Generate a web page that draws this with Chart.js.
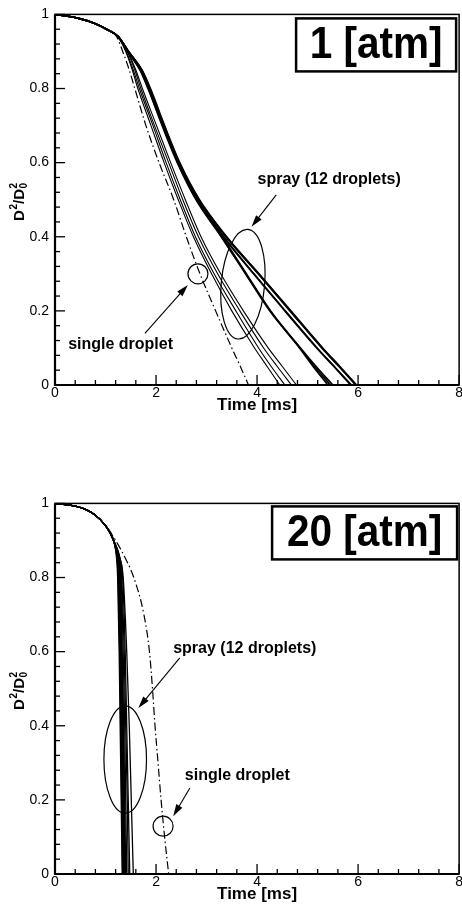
<!DOCTYPE html>
<html>
<head>
<meta charset="utf-8">
<script src="https://cdn.jsdelivr.net/npm/chart.js@4.4.0/dist/chart.umd.min.js"></script>
<style>
  html, body { margin: 0; padding: 0; background: #fff; overflow: hidden; width: 462px; height: 909px; }
  .panel { position: absolute; left: 0; width: 463px; height: 430px; }
  #topPanel { top: 0; }
  #botPanel { top: 489px; }
</style>
</head>
<body>
<div class="panel" id="topPanel"><canvas id="chartTop" width="463" height="430"></canvas></div>
<div class="panel" id="botPanel"><canvas id="chartBot" width="463" height="430"></canvas></div>
<script>
// D^2/D0^2 levels, and the time [ms] each droplet reaches that level
// 1 atm panel
const topLevels = [1, 0.99, 0.975, 0.96, 0.94, 0.9, 0.85, 0.8, 0.7, 0.6, 0.5, 0.4, 0.3, 0.2, 0.1, 0.05, 0];
const topSingle = [0, 0.45, 0.8, 1.02, 1.22, 1.34, 1.47, 1.58, 1.8, 2.06, 2.35, 2.6, 2.87, 3.18, 3.5, 3.67, 3.83];
const topA1 = [0, 0.45, 0.8, 1.02, 1.24, 1.40, 1.53, 1.64, 1.90, 2.16, 2.44, 2.74, 3.10, 3.50, 3.95, 4.20, 4.45];
const topA2 = [0, 0.45, 0.8, 1.02, 1.25, 1.41, 1.55, 1.67, 1.94, 2.20, 2.48, 2.78, 3.15, 3.58, 4.03, 4.28, 4.55];
const topA3 = [0, 0.45, 0.8, 1.02, 1.25, 1.43, 1.58, 1.70, 1.97, 2.25, 2.53, 2.84, 3.22, 3.66, 4.13, 4.40, 4.68];
const topA4 = [0, 0.45, 0.8, 1.02, 1.26, 1.44, 1.60, 1.73, 2.01, 2.29, 2.58, 2.89, 3.28, 3.73, 4.22, 4.50, 4.78];
const topB1 = [0, 0.45, 0.8, 1.02, 1.25, 1.44, 1.68, 1.84, 2.12, 2.42, 2.79, 3.29, 3.77, 4.25, 4.84, 5.11, 5.40];
const topB2 = [0, 0.45, 0.8, 1.02, 1.25, 1.45, 1.70, 1.86, 2.14, 2.44, 2.80, 3.30, 3.78, 4.26, 4.85, 5.14, 5.45];
const topB3 = [0, 0.45, 0.8, 1.02, 1.25, 1.45, 1.71, 1.87, 2.15, 2.45, 2.81, 3.31, 3.79, 4.27, 4.86, 5.17, 5.50];
const topC1 = [0, 0.45, 0.8, 1.02, 1.25, 1.44, 1.69, 1.85, 2.13, 2.43, 2.81, 3.33, 3.93, 4.55, 5.18, 5.52, 5.85];
const topC2 = [0, 0.45, 0.8, 1.02, 1.25, 1.45, 1.70, 1.86, 2.14, 2.44, 2.82, 3.34, 3.94, 4.56, 5.19, 5.53, 5.87];
const topC3 = [0, 0.45, 0.8, 1.02, 1.25, 1.45, 1.71, 1.87, 2.15, 2.45, 2.84, 3.38, 4.02, 4.65, 5.28, 5.62, 5.95];
const topC4 = [0, 0.45, 0.8, 1.02, 1.25, 1.45, 1.72, 1.88, 2.16, 2.46, 2.85, 3.39, 4.03, 4.66, 5.29, 5.63, 5.96];
const topC5 = [0, 0.45, 0.8, 1.02, 1.25, 1.46, 1.72, 1.89, 2.17, 2.47, 2.86, 3.40, 4.04, 4.67, 5.30, 5.64, 5.97];

// 20 atm panel
const botLevels = [1, 0.99, 0.97, 0.94, 0.9, 0.85, 0.8, 0.6, 0.4, 0.2, 0];
const botS1 = [0, 0.48, 0.78, 1.0, 1.16, 1.22, 1.24, 1.27, 1.29, 1.31, 1.33];
const botS2 = [0, 0.48, 0.78, 1.0, 1.16, 1.23, 1.25, 1.28, 1.30, 1.32, 1.34];
const botS3 = [0, 0.48, 0.78, 1.0, 1.16, 1.23, 1.26, 1.29, 1.31, 1.33, 1.35];
const botS4 = [0, 0.48, 0.78, 1.0, 1.16, 1.24, 1.27, 1.30, 1.32, 1.34, 1.36];
const botS5 = [0, 0.48, 0.78, 1.0, 1.16, 1.24, 1.27, 1.30, 1.33, 1.35, 1.37];
const botS6 = [0, 0.48, 0.78, 1.0, 1.16, 1.25, 1.28, 1.31, 1.34, 1.36, 1.38];
const botS7 = [0, 0.48, 0.78, 1.0, 1.16, 1.25, 1.29, 1.32, 1.35, 1.37, 1.39];
const botS8 = [0, 0.48, 0.78, 1.0, 1.16, 1.26, 1.30, 1.33, 1.36, 1.38, 1.40];
const botS9 = [0, 0.48, 0.78, 1.0, 1.16, 1.27, 1.31, 1.35, 1.38, 1.40, 1.42];
const botS10 = [0, 0.48, 0.78, 1.0, 1.16, 1.28, 1.32, 1.37, 1.40, 1.43, 1.45];
const botS11 = [0, 0.48, 0.78, 1.0, 1.16, 1.29, 1.34, 1.39, 1.42, 1.45, 1.48];
const botS12 = [0, 0.48, 0.78, 1.0, 1.16, 1.29, 1.35, 1.42, 1.47, 1.51, 1.55];
const botSingleLevels = [1, 0.99, 0.97, 0.94, 0.9, 0.85, 0.8, 0.7, 0.6, 0.5, 0.4, 0.3, 0.2, 0.1, 0];
const botSingle = [0, 0.48, 0.78, 1.0, 1.2, 1.4, 1.56, 1.76, 1.87, 1.93, 1.98, 2.04, 2.1, 2.17, 2.25];

// axis ticks
const xMajorStep = 2, xMinorStep = 0.4;
const yMajorStep = 0.2, yMinorStep = 0.04;

const FONT = '"Liberation Sans", Arial, Helvetica, sans-serif';

// annotation placement (data coords for anchors, px for sizes)
const topNotes = {
  label: '1 [atm]', box: { right: 3, top: 4, w: 160, h: 53 },
  sprayText: [4.01, 0.553], sprayArrow: [[4.38, 0.513], [3.89, 0.427]],
  ellipse: { at: [3.72, 0.272], rx: 21.7, ry: 55, rot: 0.09 },
  singleText: [0.26, 0.11], singleArrow: [[1.78, 0.139], [2.63, 0.27]],
  circle: { at: [2.83, 0.30], r: 10 }
};
const botNotes = {
  label: '20 [atm]', box: { right: 2, top: 3, w: 185, h: 53 },
  sprayText: [2.34, 0.608], sprayArrow: [[2.47, 0.583], [1.65, 0.448]],
  ellipse: { at: [1.39, 0.309], rx: 21.3, ry: 53.7, rot: 0 },
  singleText: [2.57, 0.265], singleArrow: [[2.67, 0.232], [2.34, 0.156]],
  circle: { at: [2.14, 0.129], r: 10 }
};

function toPoints(times, levels) {
  return times.map((t, i) => ({ x: t, y: levels[i] }));
}

function isMultiple(v, step) {
  return Math.abs(v / step - Math.round(v / step)) < 1e-6;
}

function lineSet(times, levels, width) {
  return {
    data: toPoints(times, levels),
    borderColor: '#000',
    borderWidth: width,
    pointRadius: 0,
    fill: false,
    cubicInterpolationMode: 'monotone'
  };
}

function drawArrow(ctx, x0, y0, x1, y1) {
  const ang = Math.atan2(y1 - y0, x1 - x0);
  const len = 12, half = 3.5;
  ctx.beginPath();
  ctx.moveTo(x0, y0);
  ctx.lineTo(x1 - Math.cos(ang) * len * 0.8, y1 - Math.sin(ang) * len * 0.8);
  ctx.stroke();
  ctx.beginPath();
  ctx.moveTo(x1, y1);
  ctx.lineTo(x1 - Math.cos(ang) * len - Math.sin(ang) * half, y1 - Math.sin(ang) * len + Math.cos(ang) * half);
  ctx.lineTo(x1 - Math.cos(ang) * len + Math.sin(ang) * half, y1 - Math.sin(ang) * len - Math.cos(ang) * half);
  ctx.closePath();
  ctx.fill();
}

function drawYTitle(ctx, cx, cy) {
  ctx.save();
  ctx.translate(cx, cy);
  ctx.rotate(-Math.PI / 2);
  const big = 'bold 15px ' + FONT, small = 'bold 10px ' + FONT;
  ctx.font = big;
  const wD = ctx.measureText('D').width, wSl = ctx.measureText('/').width;
  ctx.font = small;
  const w2 = ctx.measureText('2').width;
  let x = -(wD * 2 + wSl + w2 * 2 + 1.5) / 2;
  const base = 5;
  ctx.fillStyle = '#000';
  ctx.textAlign = 'left';
  ctx.textBaseline = 'alphabetic';
  ctx.font = big; ctx.fillText('D', x, base); x += wD + 0.5;
  ctx.font = small; ctx.fillText('2', x, base - 6.5); x += w2;
  ctx.font = big; ctx.fillText('/', x, base); x += wSl;
  ctx.fillText('D', x, base); x += wD + 0.5;
  ctx.font = small; ctx.fillText('2', x, base - 6.5); ctx.fillText('0', x, base + 3.5);
  ctx.restore();
}

const decorPlugin = {
  id: 'decor',
  afterDatasetsDraw(chart) {
    const { ctx, chartArea: a, scales: { x, y } } = chart;
    const notes = chart.options.plugins.decor.notes;
    ctx.save();
    ctx.strokeStyle = '#000';
    ctx.fillStyle = '#000';

    // inward tick marks
    ctx.lineWidth = 1.3;
    x.ticks.forEach(t => {
      const px = x.getPixelForValue(t.value);
      const len = isMultiple(t.value, xMajorStep) ? 10 : 5;
      ctx.beginPath(); ctx.moveTo(px, a.bottom); ctx.lineTo(px, a.bottom - len); ctx.stroke();
    });
    y.ticks.forEach(t => {
      const py = y.getPixelForValue(t.value);
      const len = isMultiple(t.value, yMajorStep) ? 10 : 5;
      ctx.beginPath(); ctx.moveTo(a.left, py); ctx.lineTo(a.left + len, py); ctx.stroke();
    });

    // frame
    ctx.lineWidth = 1.5;
    ctx.strokeRect(a.left, a.top, a.right - a.left, a.bottom - a.top);
    ctx.lineWidth = 2.2;
    ctx.beginPath();
    ctx.moveTo(a.left, a.top); ctx.lineTo(a.left, a.bottom); ctx.lineTo(a.right, a.bottom);
    ctx.stroke();

    // pressure label box
    const b = notes.box;
    const bx = a.right - b.right - b.w, by = a.top + b.top;
    ctx.fillStyle = '#fff';
    ctx.fillRect(bx, by, b.w, b.h);
    ctx.fillStyle = '#000';
    ctx.lineWidth = 2.5;
    ctx.strokeRect(bx, by, b.w, b.h);
    ctx.save();
    ctx.translate(bx + b.w / 2, by + b.h / 2 + 1);
    ctx.scale(0.9, 1);
    ctx.font = 'bold 45px ' + FONT;
    ctx.textAlign = 'center';
    ctx.textBaseline = 'middle';
    ctx.fillText(notes.label, 0, 0);
    ctx.restore();

    // ellipse around spray curves
    ctx.lineWidth = 1.2;
    const e = notes.ellipse;
    ctx.beginPath();
    ctx.ellipse(x.getPixelForValue(e.at[0]), y.getPixelForValue(e.at[1]), e.rx, e.ry, e.rot, 0, Math.PI * 2);
    ctx.stroke();

    // circle on single droplet curve
    const c = notes.circle;
    ctx.beginPath();
    ctx.arc(x.getPixelForValue(c.at[0]), y.getPixelForValue(c.at[1]), c.r, 0, Math.PI * 2);
    ctx.stroke();

    // arrows
    ctx.lineWidth = 1.1;
    [notes.sprayArrow, notes.singleArrow].forEach(ar => {
      drawArrow(ctx,
        x.getPixelForValue(ar[0][0]), y.getPixelForValue(ar[0][1]),
        x.getPixelForValue(ar[1][0]), y.getPixelForValue(ar[1][1]));
    });

    // annotation text
    ctx.font = 'bold 16px ' + FONT;
    ctx.textAlign = 'left';
    ctx.textBaseline = 'middle';
    ctx.fillText('spray (12 droplets)', x.getPixelForValue(notes.sprayText[0]), y.getPixelForValue(notes.sprayText[1]));
    ctx.fillText('single droplet', x.getPixelForValue(notes.singleText[0]), y.getPixelForValue(notes.singleText[1]));

    // y axis title with stacked sub/superscript
    drawYTitle(ctx, 18.5, (a.top + a.bottom) / 2 + 2);
    ctx.restore();
  }
};

function makeChart(canvasId, datasets, notes) {
  return new Chart(document.getElementById(canvasId), {
    type: 'line',
    data: { datasets: datasets },
    options: {
      responsive: false,
      animation: false,
      layout: { padding: { top: 14, left: 0, right: 0, bottom: 0 } },
      plugins: {
        legend: { display: false },
        tooltip: { enabled: false },
        decor: { notes: notes }
      },
      scales: {
        x: {
          type: 'linear', min: 0, max: 8,
          grid: { display: false, drawTicks: false },
          border: { display: false },
          ticks: {
            stepSize: xMinorStep, autoSkip: false, maxRotation: 0, padding: 0,
            color: '#000', font: { family: FONT, size: 14 },
            callback: v => isMultiple(v, xMajorStep) ? String(Math.round(v)) : ''
          },
          title: {
            display: true, text: 'Time [ms]', color: '#000',
            font: { family: FONT, size: 17, weight: 'bold' },
            padding: { top: 0, bottom: 14 }
          },
          afterFit: s => { s.height = 45; }
        },
        y: {
          type: 'linear', min: 0, max: 1,
          grid: { display: false, drawTicks: false },
          border: { display: false },
          ticks: {
            stepSize: yMinorStep, autoSkip: false, padding: 6,
            color: '#000', font: { family: FONT, size: 14 },
            callback: v => isMultiple(v, yMajorStep) ? String(Math.round(v * 10) / 10) : ''
          },
          afterFit: s => { s.width = 55; }
        }
      }
    },
    plugins: [decorPlugin]
  });
}

const dashDot = [8, 3, 1.5, 3];

const topSets = [
  lineSet(topA1, topLevels, 1.1), lineSet(topA2, topLevels, 1.1),
  lineSet(topA3, topLevels, 1.1), lineSet(topA4, topLevels, 1.1),
  lineSet(topB1, topLevels, 1.6), lineSet(topB2, topLevels, 1.6), lineSet(topB3, topLevels, 1.6),
  lineSet(topC1, topLevels, 1.6), lineSet(topC2, topLevels, 1.6), lineSet(topC3, topLevels, 1.6),
  lineSet(topC4, topLevels, 1.6), lineSet(topC5, topLevels, 1.6),
  Object.assign(lineSet(topSingle, topLevels, 1.2), { borderDash: dashDot })
];

const botSets = [botS1, botS2, botS3, botS4, botS5, botS6, botS7, botS8, botS9, botS10, botS11, botS12]
  .map(s => lineSet(s, botLevels, 1.3));
botSets.push(Object.assign(lineSet(botSingle, botSingleLevels, 1.2), { borderDash: dashDot }));

makeChart('chartTop', topSets, topNotes);
makeChart('chartBot', botSets, botNotes);
</script>
</body>
</html>
